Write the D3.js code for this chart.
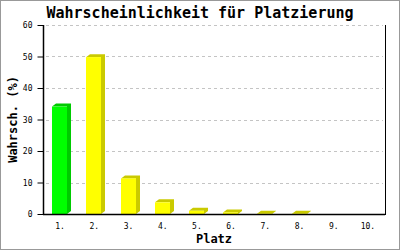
<!DOCTYPE html>
<html>
<head>
<meta charset="utf-8">
<script src="https://cdn.jsdelivr.net/npm/d3@7"></script>
<style>
  body { margin: 0; background: #fff; }
  svg { display: block; }
  text { font-family: "DejaVu Sans Mono", monospace; fill: #000; }
</style>
</head>
<body>
<div id="chart"></div>
<script>
// data
var places = ["1.", "2.", "3.", "4.", "5.", "6.", "7.", "8.", "9.", "10."];
var percent = [34.1, 49.8, 11.3, 3.7, 1.0, 0.5, 0.1, 0.1, 0, 0];
var yTicks = [0, 10, 20, 30, 40, 50, 60];
var barColors = ["#00ff00", "#ffff00", "#ffff00", "#ffff00", "#ffff00", "#ffff00", "#ffff00", "#ffff00", "#ffff00", "#ffff00"];

var width = 400, height = 250;
var margin = {top: 25, right: 15, bottom: 36, left: 43};
var depthX = 4, depthY = 3;

var svg = d3.select("#chart").append("svg")
    .attr("width", width)
    .attr("height", height);

// outer frame
svg.append("rect")
    .attr("x", 0.5).attr("y", 0.5)
    .attr("width", width - 1).attr("height", height - 1)
    .attr("fill", "#fff")
    .attr("stroke", "#999");

var x = d3.scaleBand()
    .domain(places)
    .range([margin.left, width - margin.right]);

var y = d3.scaleLinear()
    .domain([0, 60])
    .range([height - margin.bottom, margin.top]);

// dashed grid
svg.append("g").selectAll("line")
    .data(yTicks.filter(function(d) { return d > 0; }))
  .enter().append("line")
    .attr("x1", margin.left + 3)
    .attr("x2", width - margin.right - 2)
    .attr("y1", function(d) { return Math.round(y(d)) + 0.5; })
    .attr("y2", function(d) { return Math.round(y(d)) + 0.5; })
    .attr("stroke", "#c4c4c4")
    .attr("stroke-dasharray", "3,3");

// bars with a little 3d look
var barW = 15;
var bars = svg.append("g").selectAll("g")
    .data(percent.map(function(v, i) { return {place: places[i], v: v, c: barColors[i]}; })
      .filter(function(d) { return d.v > 0; }))
  .enter().append("g");

function bx(d) { return Math.round(x(d.place) + x.bandwidth() / 2 - 8); }

bars.append("path")
    .attr("d", function(d) {
      var x0 = bx(d), y0 = y(d.v), y1 = y(0);
      return "M" + x0 + "," + y0 +
        "L" + (x0 + depthX) + "," + (y0 - depthY) +
        "L" + (x0 + barW + depthX) + "," + (y0 - depthY) +
        "L" + (x0 + barW + depthX) + "," + (y1 - depthY) +
        "L" + (x0 + barW) + "," + y1 +
        "L" + (x0 + barW) + "," + y0 + "Z";
    })
    .attr("fill", function(d) { return d3.color(d.c).darker(0.65); });

bars.append("rect")
    .attr("x", bx)
    .attr("y", function(d) { return y(d.v); })
    .attr("width", barW)
    .attr("height", function(d) { return y(0) - y(d.v); })
    .attr("fill", function(d) { return d.c; });

// axes
var yAxis = svg.append("g")
    .attr("transform", "translate(" + (margin.left + 0.5) + ",0)")
    .call(d3.axisLeft(y).tickValues(yTicks).tickSize(6).tickPadding(5));
yAxis.select(".domain").attr("d", "M0," + y(60) + "V" + y(0));
yAxis.selectAll("line").attr("stroke", "#000");
yAxis.selectAll("text").attr("font-size", 8).attr("font-family", "DejaVu Sans Mono");

var xAxis = svg.append("g")
    .attr("transform", "translate(0," + (y(0) + 0.5) + ")")
    .call(d3.axisBottom(x).tickSize(0).tickPadding(9));
xAxis.selectAll("text").attr("font-size", 8).attr("font-family", "DejaVu Sans Mono");
xAxis.select(".domain").attr("d", "M" + margin.left + ",0H" + (width - margin.right));

// right edge of plot
svg.append("line")
    .attr("x1", width - margin.right + 0.5).attr("x2", width - margin.right + 0.5)
    .attr("y1", y(60)).attr("y2", y(0) + 1)
    .attr("stroke", "#000");

svg.selectAll(".domain").attr("stroke", "#000").attr("stroke-width", 1.5);

// titles
svg.append("text")
    .attr("x", width / 2).attr("y", 18)
    .attr("text-anchor", "middle")
    .attr("font-size", 15).attr("font-weight", "bold")
    .text("Wahrscheinlichkeit für Platzierung");

svg.append("text")
    .attr("x", (margin.left + width - margin.right) / 2).attr("y", 243)
    .attr("text-anchor", "middle")
    .attr("font-size", 12).attr("font-weight", "bold")
    .text("Platz");

svg.append("text")
    .attr("transform", "translate(17," + ((y(0) + y(60)) / 2) + ") rotate(-90)")
    .attr("text-anchor", "middle")
    .attr("font-size", 12).attr("font-weight", "bold")
    .text("Wahrsch. (%)");
</script>
</body>
</html>
